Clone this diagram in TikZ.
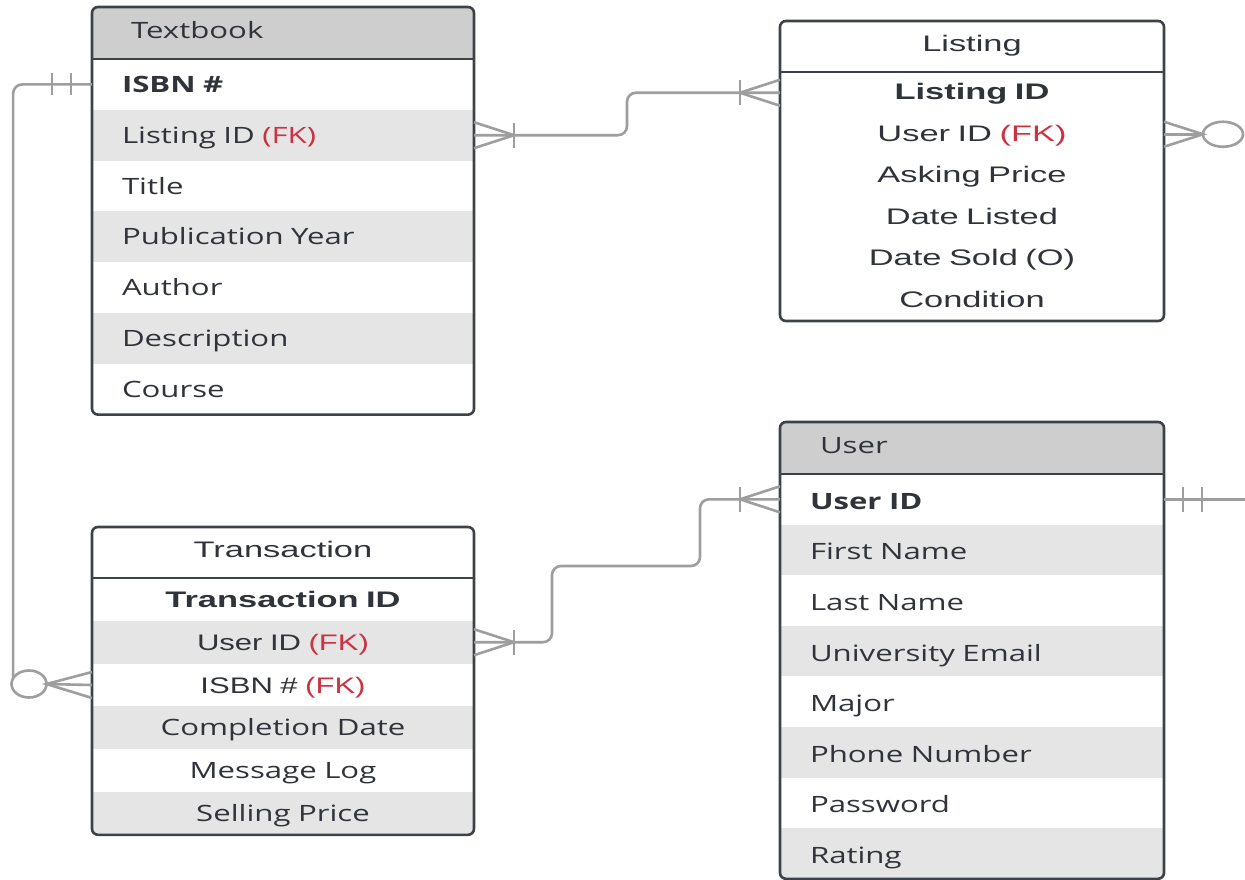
\documentclass[tikz,border=0pt]{standalone}
\usepackage{fontspec}
\setmainfont{Open Sans}[FakeStretch=1.385]
\newfontfamily\arlT{Liberation Sans}[FakeStretch=1.38]
\newfontfamily\arlL{Liberation Sans}[FakeStretch=1.53]
\usetikzlibrary{shapes.geometric,calc}
\definecolor{bd}{RGB}{61,66,73}
\definecolor{hdr}{RGB}{206,206,206}
\definecolor{rowg}{RGB}{229,229,229}
\definecolor{txt}{RGB}{48,52,58}
\definecolor{fkred}{RGB}{205,50,65}
\definecolor{cg}{RGB}{158,158,158}
\newcommand\mysz{\fontsize{22.5}{27}\selectfont}
\newcommand\fk{\textcolor{fkred}{(FK)}}
\begin{document}
\begin{tikzpicture}[x=1pt,y=-1pt,
  tbl/.style={draw=bd, line width=2.6pt, rounded corners=6pt},
  sep/.style={draw=bd, line width=2.6pt},
  cell/.style={anchor=north west, outer sep=0pt, inner ysep=0pt, text height=16pt, text depth=0pt, text=txt, font=\mysz},
  tbhead/.style={cell, fill=hdr, minimum height=52pt, inner xsep=39pt, text width=304pt, align=left, text depth=6pt},
  tbrow/.style={cell, minimum height=50.8pt, inner xsep=30pt, text width=322pt, align=left},
  ushead/.style={cell, fill=hdr, minimum height=52pt, inner xsep=40pt, text width=304pt, align=left, text depth=6pt},
  usrow/.style={cell, minimum height=50.6pt, inner xsep=30pt, text width=324pt, align=left, text depth=0pt, text height=20pt},
  lshead/.style={cell, minimum height=51pt, inner xsep=0pt, text width=384pt, align=center, text depth=6pt, font=\arlL\mysz},
  lsrow/.style={cell, minimum height=41.5pt, inner xsep=0pt, text width=384pt, align=center, text depth=2.5pt, font=\arlL\mysz},
  trhead/.style={cell, minimum height=51pt, inner xsep=0pt, text width=382pt, align=center, text depth=6pt, font=\arlL\mysz},
  trrow/.style={cell, minimum height=42.8pt, inner xsep=0pt, text width=382pt, align=center},
  shade/.style={fill=rowg},
  conn/.style={draw=cg, line width=2.6pt},
  zero/.style={ellipse, draw=cg, line width=2.6pt, inner sep=0pt, outer sep=0pt}
]
\useasboundingbox (0,0) rectangle (1245,879);
\fill[white] (0,0) rectangle (1245,879);

% ---------------- Textbook ----------------
\begin{scope}
\clip[rounded corners=6pt] (92,7) rectangle (474,414.6);
\node[tbhead] (tb-head) at (92,7) {Textbook};
\node[tbrow] (tb-isbn) at (tb-head.south west) {\bfseries ISBN \#};
\node[tbrow, shade] (tb-listing) at (tb-isbn.south west) {Listing ID \fk};
\node[tbrow] (tb-title) at (tb-listing.south west) {Title};
\node[tbrow, shade] (tb-year) at (tb-title.south west) {Publication Year};
\node[tbrow] (tb-author) at (tb-year.south west) {Author};
\node[tbrow, shade] (tb-desc) at (tb-author.south west) {Description};
\node[tbrow] (tb-course) at (tb-desc.south west) {Course};
\end{scope}
\draw[tbl] (tb-head.north west) rectangle (tb-course.south east);
\draw[sep] (tb-head.south west) -- (tb-head.south east);

% ---------------- Listing ----------------
\begin{scope}
\clip[rounded corners=6pt] (780,21) rectangle (1164,322);
\node[lshead] (ls-head) at (780,21) {Listing};
\node[lsrow] (ls-id) at (ls-head.south west) {\bfseries Listing ID};
\node[lsrow] (ls-user) at (ls-id.south west) {User ID \fk};
\node[lsrow] (ls-price) at (ls-user.south west) {Asking Price};
\node[lsrow] (ls-listed) at (ls-price.south west) {Date Listed};
\node[lsrow] (ls-sold) at (ls-listed.south west) {Date Sold (O)};
\node[lsrow] (ls-cond) at (ls-sold.south west) {Condition};
\end{scope}
\draw[tbl] (ls-head.north west) rectangle (ls-cond.south east);
\draw[sep] (ls-head.south west) -- (ls-head.south east);

% ---------------- User ----------------
\begin{scope}
\clip[rounded corners=6pt] (780,422) rectangle (1164,878.8);
\node[ushead] (us-head) at (780,422) {User};
\node[usrow] (us-id) at (us-head.south west) {\bfseries User ID};
\node[usrow, shade] (us-first) at (us-id.south west) {First Name};
\node[usrow] (us-last) at (us-first.south west) {Last Name};
\node[usrow, shade] (us-email) at (us-last.south west) {University Email};
\node[usrow] (us-major) at (us-email.south west) {Major};
\node[usrow, shade] (us-phone) at (us-major.south west) {Phone Number};
\node[usrow] (us-pass) at (us-phone.south west) {Password};
\node[usrow, shade] (us-rating) at (us-pass.south west) {Rating};
\end{scope}
\draw[tbl] (us-head.north west) rectangle (us-rating.south east);
\draw[sep] (us-head.south west) -- (us-head.south east);

% ---------------- Transaction ----------------
\begin{scope}
\clip[rounded corners=6pt] (92,527) rectangle (474,834.8);
\node[trhead] (tr-head) at (92,527) {Transaction};
\node[trrow, font=\arlL\mysz] (tr-id) at (tr-head.south west) {\bfseries Transaction ID};
\node[trrow, shade, font=\arlT\mysz] (tr-user) at (tr-id.south west) {User ID \fk};
\node[trrow, font=\arlT\mysz] (tr-isbn) at (tr-user.south west) {ISBN \# \fk};
\node[trrow, shade] (tr-date) at (tr-isbn.south west) {Completion Date};
\node[trrow] (tr-log) at (tr-date.south west) {Message Log};
\node[trrow, shade] (tr-price) at (tr-log.south west) {Selling Price};
\end{scope}
\draw[tbl] (tr-head.north west) rectangle (tr-price.south east);
\draw[sep] (tr-head.south west) -- (tr-head.south east);

% ---------------- Connectors ----------------
% Textbook ISBN (one and only one) -- Transaction ISBN (zero or many)
\node[zero, minimum width=35pt, minimum height=27pt] (zc) at (29,684) {};
\draw[conn, rounded corners=9pt] (tb-isbn.west) -| (zc.160);
\draw[conn] ($(tb-isbn.west)+(-40,-11)$) -- ($(tb-isbn.west)+(-40,11)$);
\draw[conn] ($(tb-isbn.west)+(-21,-11)$) -- ($(tb-isbn.west)+(-21,11)$);
\draw[conn] ($(tr-isbn.west)+(0,-13)$) -- (zc.east) -- ($(tr-isbn.west)+(0,13)$);
\draw[conn] (zc.east) -- (tr-isbn.west);

% Textbook Listing ID (one or many) -- Listing ID (one or many)
\draw[conn, rounded corners=9pt] (tb-listing.east) -| ($(tb-listing.east)!0.5!(ls-id.west)$) |- (ls-id.west);
\draw[conn] ($(tb-listing.east)+(0,-13)$) -- ($(tb-listing.east)+(40,0)$) -- ($(tb-listing.east)+(0,13)$);
\draw[conn] ($(tb-listing.east)+(40,-12.5)$) -- ($(tb-listing.east)+(40,12.5)$);
\draw[conn] ($(ls-id.west)+(0,-13)$) -- ($(ls-id.west)+(-40,0)$) -- ($(ls-id.west)+(0,13)$);
\draw[conn] ($(ls-id.west)+(-40,-12.5)$) -- ($(ls-id.west)+(-40,12.5)$);

% Listing User ID (zero or many)
\node[zero, minimum width=40pt, minimum height=25pt] (lc) at ($(ls-user.east)+(59,0)$) {};
\draw[conn] ($(ls-user.east)+(0,-12.5)$) -- (lc.west) -- ($(ls-user.east)+(0,12.5)$);
\draw[conn] (ls-user.east) -- (lc.west);

% User ID (one and only one) going off to the right
\coordinate (uend) at (1245,0);
\draw[conn] (us-id.east) -- (us-id.east -| uend);
\draw[conn] ($(us-id.east)+(19,-12.5)$) -- ($(us-id.east)+(19,12.5)$);
\draw[conn] ($(us-id.east)+(38,-12.5)$) -- ($(us-id.east)+(38,12.5)$);

% Transaction User ID (one or many) -- User ID (one or many)
\coordinate (w1) at (552,566);
\coordinate (w2) at (700,566);
\draw[conn, rounded corners=9pt] (tr-user.east) -| (w1) -- (w2) |- (us-id.west);
\draw[conn] ($(tr-user.east)+(0,-13)$) -- ($(tr-user.east)+(40,0)$) -- ($(tr-user.east)+(0,13)$);
\draw[conn] ($(tr-user.east)+(40,-12.5)$) -- ($(tr-user.east)+(40,12.5)$);
\draw[conn] ($(us-id.west)+(0,-13)$) -- ($(us-id.west)+(-40,0)$) -- ($(us-id.west)+(0,13)$);
\draw[conn] ($(us-id.west)+(-40,-12.5)$) -- ($(us-id.west)+(-40,12.5)$);
\end{tikzpicture}
\end{document}
